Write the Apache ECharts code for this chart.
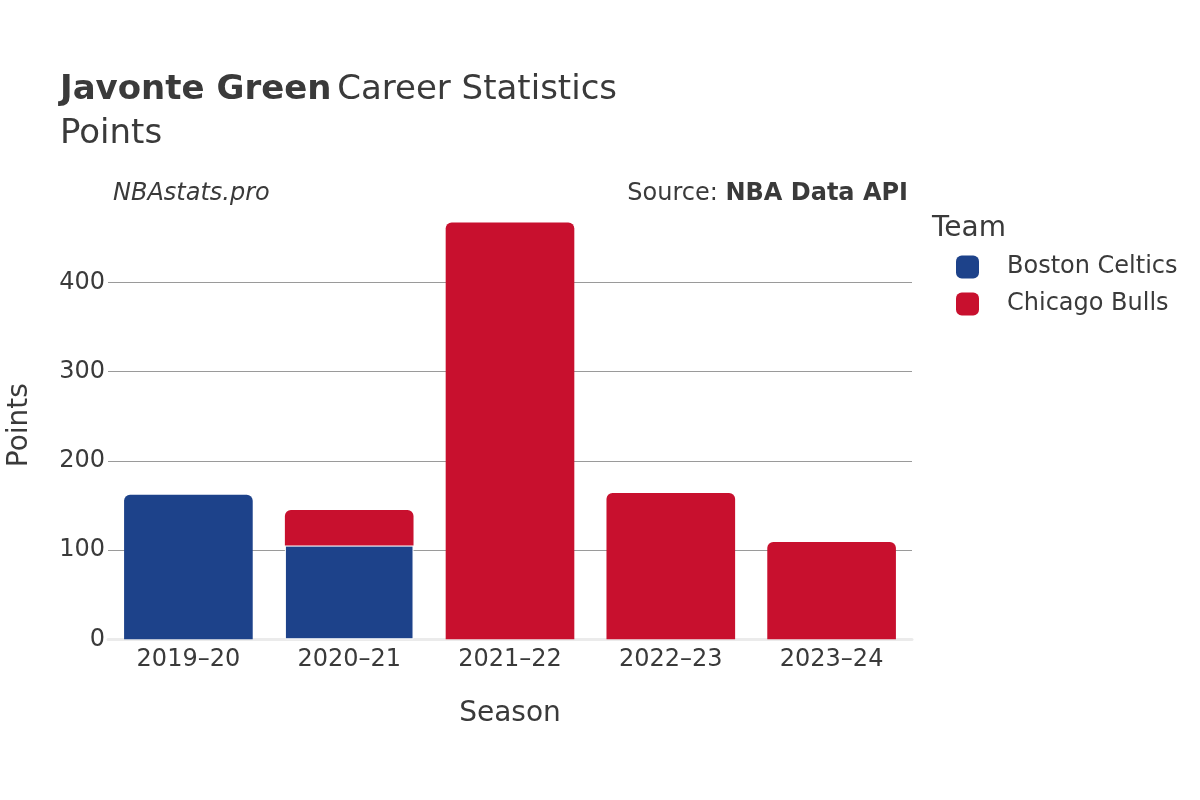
<!DOCTYPE html>
<html>
<head>
<meta charset="utf-8">
<script src="https://cdn.jsdelivr.net/npm/echarts@6/dist/echarts.min.js"></script>
<style>
  html, body { margin: 0; padding: 0; background: #fff; }
  #chart { width: 1200px; height: 800px; }
</style>
</head>
<body>
<div id="chart"></div>
<script>
// 赛季与各队得分
const seasons = ['2019–20', '2020–21', '2021–22', '2022–23', '2023–24'];
const teams = ['Boston Celtics', 'Chicago Bulls'];
const bostonPts = [162, 105, null, null, null];
const chicagoPts = [null, 40, 467, 164, 109];
const teamColors = ['#1d428a', '#c8102e'];
const yTicks = [0, 100, 200, 300, 400];

const font = 'DejaVu Sans';
const textColor = '#3a3a3a';

// 顶部那一段才画圆角，下面的段加白色分隔线
function buildData (vals, above) {
  return vals.map((v, i) => {
    const onTop = !(above && above[i]);
    return {
      value: v,
      itemStyle: {
        borderRadius: onTop ? [6, 6, 0, 0] : 0,
        borderColor: '#fff',
        borderWidth: onTop ? 0 : 1
      }
    };
  });
}

const chart = echarts.init(document.getElementById('chart'));
const option = {
  backgroundColor: '#fff',
  animation: false,
  textStyle: { fontFamily: font, color: textColor },
  title: [
    {
      left: 55, top: 68,
      text: '{b|Javonte Green} {n|Career Statistics}',
      textStyle: {
        fontWeight: 'normal',
        rich: {
          b: { fontFamily: font, fontSize: 34, fontWeight: 'bold', color: textColor },
          n: { fontFamily: font, fontSize: 34, fontWeight: 'normal', color: textColor }
        }
      }
    },
    {
      left: 55, top: 112,
      text: 'Points',
      textStyle: { fontFamily: font, fontSize: 34, fontWeight: 'normal', color: textColor }
    },
    {
      left: 108, top: 177,
      text: 'NBAstats.pro',
      textStyle: { fontFamily: font, fontSize: 24, fontStyle: 'italic', fontWeight: 'normal', color: textColor }
    },
    {
      right: 287, top: 177,
      text: '{n|Source: }{b|NBA Data API}',
      textStyle: {
        fontWeight: 'normal',
        rich: {
          n: { fontFamily: font, fontSize: 24, fontWeight: 'normal', color: textColor },
          b: { fontFamily: font, fontSize: 24, fontWeight: 'bold', color: textColor }
        }
      }
    },
    {
      left: 927, top: 210,
      text: 'Team',
      textStyle: { fontFamily: font, fontSize: 28, fontWeight: 'normal', color: textColor }
    }
  ],
  legend: {
    orient: 'vertical',
    left: 951, top: 250,
    icon: 'roundRect',
    itemWidth: 23, itemHeight: 23,
    itemGap: 13,
    data: teams,
    textStyle: { fontFamily: font, fontSize: 24, color: textColor, padding: [0, 0, 0, 23] }
  },
  grid: {
    left: 108, right: 288, top: 211, bottom: 160.7,
    outerBoundsMode: 'none'
  },
  xAxis: {
    type: 'category',
    data: seasons,
    name: 'Season',
    nameLocation: 'middle',
    nameGap: 60,
    nameTextStyle: { fontFamily: font, fontSize: 28, color: textColor },
    axisLine: { show: true, lineStyle: { color: '#ebebeb', width: 3 } },
    axisTick: { show: false },
    axisLabel: { fontFamily: font, fontSize: 24, color: textColor, margin: 8 }
  },
  yAxis: {
    type: 'value',
    min: 0, max: 480, interval: 100,
    name: 'Points',
    nameLocation: 'middle',
    nameGap: 74,
    nameTextStyle: { fontFamily: font, fontSize: 28, color: textColor },
    axisLine: { show: false },
    axisTick: { show: false },
    axisLabel: {
      fontFamily: font, fontSize: 24, color: textColor, margin: 3,
      showMaxLabel: false,
      formatter: v => (yTicks.indexOf(v) >= 0 ? String(v) : '')
    },
    splitLine: {
      show: true, showMinLine: false, showMaxLine: false,
      lineStyle: { color: '#9a9a9a', width: 1 }
    }
  },
  series: [
    {
      name: teams[0],
      type: 'bar',
      stack: 'pts',
      barWidth: '80%',
      itemStyle: { color: teamColors[0] },
      data: buildData(bostonPts, chicagoPts)
    },
    {
      name: teams[1],
      type: 'bar',
      stack: 'pts',
      barWidth: '80%',
      itemStyle: { color: teamColors[1] },
      data: buildData(chicagoPts, null)
    }
  ]
};
chart.setOption(option);
</script>
</body>
</html>
